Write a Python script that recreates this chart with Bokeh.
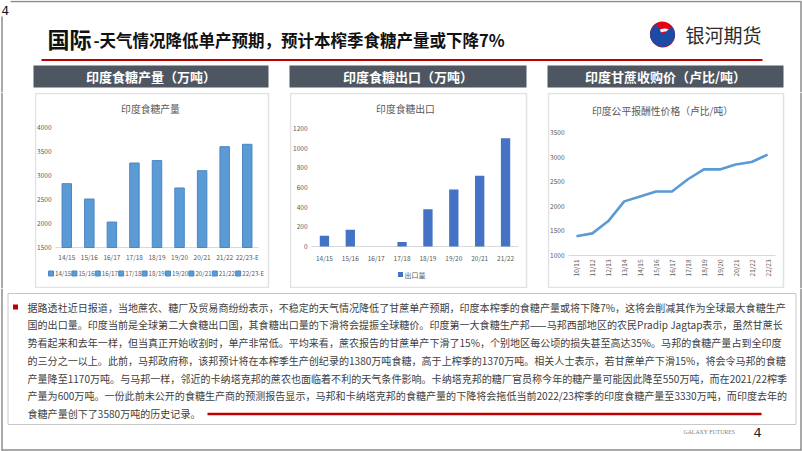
import math
from bokeh.plotting import figure
from bokeh.models import Range1d, Spacer
from bokeh.layouts import column, row
from bokeh.core.properties import value
from bokeh.embed import file_html
from bokeh.resources import INLINE

FONT = "Noto Sans CJK SC"

# ---------------- data ----------------
prod_seasons = ["14/15", "15/16", "16/17", "17/18", "18/19", "19/20", "20/21", "21/22", "22/23-E"]
prod_values = [2830, 2510, 2030, 3260, 3310, 2740, 3100, 3600, 3650]
prod_ticks = [1500, 2000, 2500, 3000, 3500, 4000]

export_seasons = ["14/15", "15/16", "16/17", "17/18", "18/19", "19/20", "20/21", "21/22"]
export_values = [110, 170, 0, 45, 380, 580, 720, 1100]
export_ticks = [0, 200, 400, 600, 800, 1000, 1200]

frp_seasons = ["10/11", "11/12", "12/13", "13/14", "14/15", "15/16", "16/17",
               "17/18", "18/19", "19/20", "20/21", "21/22", "22/23"]
frp_values = [1390, 1450, 1700, 2100, 2200, 2300, 2300, 2550, 2750, 2750, 2850, 2900, 3050]
frp_ticks = [1000, 1500, 2000, 2500, 3000, 3500]

page_title_main = "国际"
page_title_rest = "-天气情况降低单产预期，预计本榨季食糖产量或下降7%"
logo_text = "银河期货"
panel_headers = ["印度食糖产量（万吨）", "印度食糖出口（万吨）", "印度甘蔗收购价（卢比/吨）"]
chart_titles = ["印度食糖产量", "印度食糖出口", "印度公平报酬性价格（卢比/吨）"]
export_legend = "出口量"
paragraph_lines = [
    "据路透社近日报道，当地蔗农、糖厂及贸易商纷纷表示，不稳定的天气情况降低了甘蔗单产预期，印度本榨季的食糖产量或将下降7%，这将会削减其作为全球最大食糖生产",
    "国的出口量。印度当前是全球第二大食糖出口国，其食糖出口量的下滑将会提振全球糖价。印度第一大食糖生产邦——马邦西部地区的农民Pradip Jagtap表示，虽然甘蔗长",
    "势看起来和去年一样，但当真正开始收割时，单产非常低。平均来看，蔗农报告的甘蔗单产下滑了15%，个别地区每公顷的损失甚至高达35%。马邦的食糖产量占到全印度",
    "的三分之一以上。此前，马邦政府称，该邦预计将在本榨季生产创纪录的1380万吨食糖，高于上榨季的1370万吨。相关人士表示，若甘蔗单产下滑15%，将会令马邦的食糖",
    "产量降至1170万吨。与马邦一样，邻近的卡纳塔克邦的蔗农也面临着不利的天气条件影响。卡纳塔克邦的糖厂官员称今年的糖产量可能因此降至550万吨，而在2021/22榨季",
    "产量为600万吨。一份此前未公开的食糖生产商的预测报告显示，马邦和卡纳塔克邦的食糖产量的下降将会拖低当前2022/23榨季的印度食糖产量至3330万吨，而印度去年的",
    "食糖产量创下了3580万吨的历史记录。",
]
footer_text = "GALAXY FUTURES"
page_number = "4"

EDGE = "#8c8c8c"
LABEL = "#595959"


def canvas(w, h, x0, y0):
    p = figure(width=w, height=h, x_range=Range1d(x0, x0 + w), y_range=Range1d(y0 + h, y0),
               output_backend="svg", toolbar_location=None, min_border=0,
               x_axis_location=None, y_axis_location=None)
    p.outline_line_color = None
    p.grid.visible = False
    p.background_fill_color = "white"
    p.border_fill_color = "white"
    return p


# ---------------- header (y 0..92) ----------------
hdr = canvas(802, 92, 0, 0)
hdr.text(x=[1], y=[10], text=[page_number], text_font=value("DejaVu Sans"),
         text_font_size="12px", text_color="#111111", text_baseline="middle")
hdr.segment(x0=[10], y0=[1], x1=[801], y1=[1], line_color=EDGE, line_width=1.5)
hdr.segment(x0=[800.5, 1.5], y0=[1, 16], x1=[800.5, 1.5], y1=[92, 92], line_color=EDGE, line_width=1.5)
hdr.text(x=[47], y=[37], text=[page_title_main], text_font=value(FONT), text_font_style="bold",
         text_font_size="22px", text_color="#111111", text_baseline="middle")
hdr.text(x=[93], y=[39], text=[page_title_rest], text_font=value(FONT), text_font_style="bold",
         text_font_size="16.5px", text_color="#111111", text_baseline="middle")
hdr.ellipse(x=[662], y=[34], width=[25], height=[26], angle=[0.4], fill_color="#e60012", line_color=None)
hdr.annular_wedge(x=[664], y=[37], inner_radius=6, outer_radius=9, start_angle=math.radians(200),
                  end_angle=math.radians(330), direction="clock", fill_color="white", line_color=None)
hdr.wedge(x=[662], y=[34], radius=12.5, start_angle=math.radians(40), end_angle=math.radians(120),
          direction="clock", fill_color="#1c4aa5", line_color=None)
hdr.text(x=[685], y=[34], text=[logo_text], text_font=value(FONT), text_font_size="19px",
         text_color="#2b2b2b", text_baseline="middle")
hdr.segment(x0=[41], y0=[59.5], x1=[762], y1=[59.5], line_color="#c00000", line_width=2)
hl = [33, 289, 547]
hr = [268, 526, 783]
hdr.quad(left=hl, right=hr, top=[65] * 3, bottom=[87] * 3, fill_color="#4e5661", line_color=None)
hdr.text(x=[(a + b) / 2 for a, b in zip(hl, hr)], y=[76] * 3, text=panel_headers,
         text_font=value(FONT), text_font_style="bold", text_font_size="13px",
         text_color="white", text_align="center", text_baseline="middle")

# ---------------- charts (y 92..288) ----------------
ROW_TOP, ROW_BOTTOM = 92, 288


def make_chart(x0, x1, frame, cats, ticks, title, title_xy, panel):
    """Chart canvas: default ranges in data units (category slots / values),
    extra 'px' ranges for decoration placement."""
    fl, fr, ft, fb = frame
    n = len(cats)
    bw = (fr - fl) / n
    k = (ticks[-1] - ticks[0]) / (fb - ft)
    p = figure(width=x1 - x0, height=ROW_BOTTOM - ROW_TOP,
               x_range=Range1d(-(fl - x0) / bw, n + (x1 - fr) / bw),
               y_range=Range1d(ticks[0] - (ROW_BOTTOM - fb) * k, ticks[-1] + (ft - ROW_TOP) * k),
               output_backend="svg", toolbar_location=None, min_border=0,
               x_axis_location=None, y_axis_location=None)
    p.extra_x_ranges = {"px": Range1d(x0, x1)}
    p.extra_y_ranges = {"px": Range1d(ROW_BOTTOM, ROW_TOP)}
    p.outline_line_color = None
    p.grid.visible = False
    p.background_fill_color = "white"
    p.border_fill_color = "white"
    pl, pr, pt, pb = panel
    p.quad(left=[pl], right=[pr], top=[pt], bottom=[pb], fill_color=None, line_color="#e2e2e2",
           line_width=1.5, x_range_name="px", y_range_name="px")
    p.text(x=[title_xy[0]], y=[title_xy[1]], text=[title], text_font=value(FONT),
           text_font_size="9.8px", text_color=LABEL, text_align="center", text_baseline="middle",
           x_range_name="px", y_range_name="px")
    # y tick labels at their values
    p.text(x=[fl - 4] * len(ticks), y=ticks, text=[str(t) for t in ticks], text_font=value(FONT),
           text_font_size="6.5px", text_color=LABEL, text_align="right", text_baseline="middle",
           x_range_name="px")
    # category axis line at the base value
    p.segment(x0=[0], y0=[ticks[0]], x1=[n], y1=[ticks[0]], line_color="#d9d9d9", line_width=1)
    return p


def slots(cats):
    return [i + 0.5 for i in range(len(cats))]


# chart 1: production
p1 = make_chart(34, 279, (55, 258, 127, 247), prod_seasons, prod_ticks, chart_titles[0],
                (150, 108), (35, 268, 93, 287))
x1s = slots(prod_seasons)
p1.vbar(x=x1s, top=prod_values, bottom=prod_ticks[0], width=0.42,
        fill_color="#5b9bd5", line_color="#4a86c5")
p1.text(x=x1s, y=[256] * len(prod_seasons), text=prod_seasons, text_font=value(FONT),
        text_font_size="6.5px", text_color=LABEL, text_align="center", text_baseline="middle",
        y_range_name="px")
leg_x = [48 + 23.4 * i for i in range(len(prod_seasons))]
p1.rect(x=[x + 2.5 for x in leg_x], y=[273] * len(leg_x), width=5, height=5,
        fill_color="#5b9bd5", line_color="#4a86c5", x_range_name="px", y_range_name="px")
p1.text(x=[x + 6.5 for x in leg_x], y=[273] * len(leg_x), text=prod_seasons, text_font=value(FONT),
        text_font_size="6.2px", text_color=LABEL, text_baseline="middle",
        x_range_name="px", y_range_name="px")

# chart 2: exports
p2 = make_chart(289, 540, (311, 518, 128, 246), export_seasons, export_ticks, chart_titles[1],
                (405, 108), (290, 526, 93, 287))
x2s = slots(export_seasons)
p2.vbar(x=x2s, top=export_values, bottom=export_ticks[0], width=0.36,
        fill_color="#4472c4", line_color=None)
p2.text(x=x2s, y=[257] * len(export_seasons), text=export_seasons, text_font=value(FONT),
        text_font_size="6.5px", text_color=LABEL, text_align="center", text_baseline="middle",
        y_range_name="px")
p2.rect(x=[400], y=[274], width=5, height=5, fill_color="#4472c4", line_color=None,
        x_range_name="px", y_range_name="px")
p2.text(x=[404], y=[274], text=[export_legend], text_font=value(FONT), text_font_size="7px",
        text_color=LABEL, text_baseline="middle", x_range_name="px", y_range_name="px")

# chart 3: FRP
p3 = make_chart(547, 796, (568, 775, 132, 255), frp_seasons, frp_ticks, chart_titles[2],
                (662, 110), (548, 783, 93, 287))
x3s = slots(frp_seasons)
p3.line(x=x3s, y=frp_values, line_color="#5b9bd5", line_width=2.6, line_join="round")
p3.text(x=x3s, y=[259] * len(frp_seasons), text=frp_seasons, text_font=value(FONT),
        text_font_size="6.5px", text_color=LABEL, text_align="right", text_baseline="middle",
        angle=math.pi / 2, y_range_name="px")

left_edge = canvas(34, 196, 0, 92)
left_edge.segment(x0=[1.5], y0=[92], x1=[1.5], y1=[288], line_color=EDGE, line_width=1.5)
right_edge = canvas(6, 196, 796, 92)
right_edge.segment(x0=[800.5], y0=[92], x1=[800.5], y1=[288], line_color=EDGE, line_width=1.5)

charts = row(left_edge, p1, Spacer(width=10, height=196), p2,
             Spacer(width=7, height=196), p3, right_edge)

# ---------------- text box (y 288..451) ----------------
txt = canvas(802, 163, 0, 288)
txt.segment(x0=[1.5, 800.5], y0=[288, 288], x1=[1.5, 800.5], y1=[450, 450], line_color=EDGE, line_width=1.5)
txt.segment(x0=[1], y0=[449.5], x1=[801], y1=[449.5], line_color=EDGE, line_width=1.5)
txt.quad(left=[7.5], right=[795.5], top=[293], bottom=[424], fill_color="white",
         line_color="#c8c8c8", line_width=1)
txt.rect(x=[15], y=[306.5], width=5, height=5, fill_color="#c00000", line_color=None)
txt.text(x=[27] * len(paragraph_lines), y=[306.7 + 17.7 * i for i in range(len(paragraph_lines))],
         text=paragraph_lines, text_font=value(FONT), text_font_size="10.05px",
         text_color="#404040", text_baseline="middle")
txt.segment(x0=[207], y0=[413.5], x1=[761], y1=[413.5], line_color="#c00000", line_width=2.5)
txt.text(x=[683], y=[431], text=[footer_text], text_font=value("Liberation Serif"),
         text_font_size="5.8px", text_color="#808080", text_baseline="middle")
txt.text(x=[753], y=[432], text=[page_number], text_font=value("DejaVu Sans"),
         text_font_size="13px", text_color="#222222", text_baseline="middle")

layout = column(hdr, charts, txt)
open("out.html", "w").write(file_html(layout, INLINE))
